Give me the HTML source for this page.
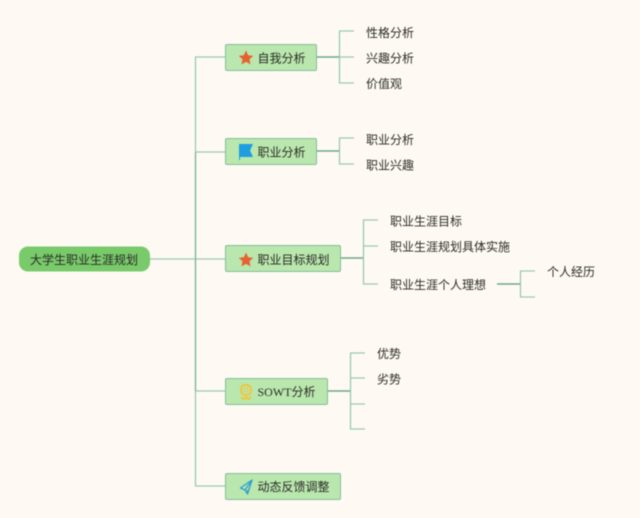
<!DOCTYPE html>
<html>
<head>
<meta charset="utf-8">
<style>
html,body{margin:0;padding:0;background:#fefaf3}
svg{display:block;filter:blur(.4px)}
text{font-family:"Liberation Sans","Noto Sans CJK SC",sans-serif;font-size:12px;fill:#2b2b25;dominant-baseline:central}
</style>
</head>
<body>
<svg width="640" height="518" viewBox="0 0 640 518" xmlns="http://www.w3.org/2000/svg">
<rect width="640" height="518" fill="#fefaf3"/>
<g fill="none" stroke="#9cc9af" stroke-width="1.300">
<path d="M150 259H225"/>
<path d="M195.500 57V486"/>
<path d="M195 57H225M195 152H225M195 391H225M195 486H225"/>
<path d="M354 31H339.500V83H354M339 57H354"/>
<path d="M354 138H339.500V164H354"/>
<path d="M378 220H363.500V284H378M363 246H378"/>
<path d="M535 271H520.500V297H535"/>
<path d="M365 353H350.500V429H365M350 378H365M350 404H365"/>
</g>
<g fill="none" stroke="#6fa88a" stroke-width="1.400">
<path d="M317 57H339M317 151H339M341 258H363M497 284H520M327 391H350"/>
</g>
<path d="M195.500 152V391" fill="none" stroke="#84b89c" stroke-width="1.300"/>
<rect x="19" y="246.500" width="131" height="25" rx="9" fill="#78ca6b"/>
<g fill="#b9e7ae" stroke="#84bd9b" stroke-width="1">
<rect x="225.500" y="44.500" width="91" height="26" rx="1.500"/>
<rect x="225.500" y="138.500" width="91" height="26" rx="1.500"/>
<rect x="225.500" y="245.500" width="115" height="26" rx="1.500"/>
<rect x="225.500" y="378.500" width="102" height="26" rx="1.500"/>
<rect x="225.500" y="473.500" width="115" height="26" rx="1.500"/>
</g>
<g fill="#e8622f">
<polygon points="246,50.500 248.200,55.300 253.300,55.900 249.500,59.300 250.500,64.400 246,61.900 241.500,64.400 242.500,59.300 238.700,55.900 243.800,55.300"/>
<polygon points="246,252.500 248.200,257.300 253.300,257.900 249.500,261.300 250.500,266.400 246,263.900 241.500,266.400 242.500,261.300 238.700,257.900 243.800,257.300"/>
</g>
<path d="M239 144H253L250 150.500L253 157H240V160H239Z" fill="#1f9de0"/>
<g fill="none" stroke="#eec63f">
<rect x="241.200" y="385" width="9.600" height="10" rx="3.800" stroke-width="2"/>
<rect x="244" y="388" width="4" height="4" rx="2" stroke-width="1"/>
<path d="M241 397.500L244 399L246 397.500L248 399L251 397.500" stroke-width="2.200"/>
</g>
<path d="M252 480L240.500 488L245 490L247.500 494L252 480ZM252 480L245 490M247.500 494V490" fill="none" stroke="#2d9fd0" stroke-width="1.300" stroke-linejoin="round"/>
<text x="30" y="260">大学生职业生涯规划</text>
<text x="257.500" y="58.500">自我分析</text>
<text x="257.500" y="152.500">职业分析</text>
<text x="257.500" y="260">职业目标规划</text>
<text x="257.500" y="392"><tspan style="font-family:'Liberation Serif',serif">SOWT</tspan>分析</text>
<text x="257.500" y="487">动态反馈调整</text>
<text x="366" y="33">性格分析</text>
<text x="366" y="58.500">兴趣分析</text>
<text x="366" y="84">价值观</text>
<text x="366" y="140">职业分析</text>
<text x="366" y="165.500">职业兴趣</text>
<text x="390" y="221.500">职业生涯目标</text>
<text x="390" y="247">职业生涯规划具体实施</text>
<text x="390" y="285">职业生涯个人理想</text>
<text x="547" y="272">个人经历</text>
<text x="377" y="354">优势</text>
<text x="377" y="379.500">劣势</text>
</svg>
</body>
</html>
